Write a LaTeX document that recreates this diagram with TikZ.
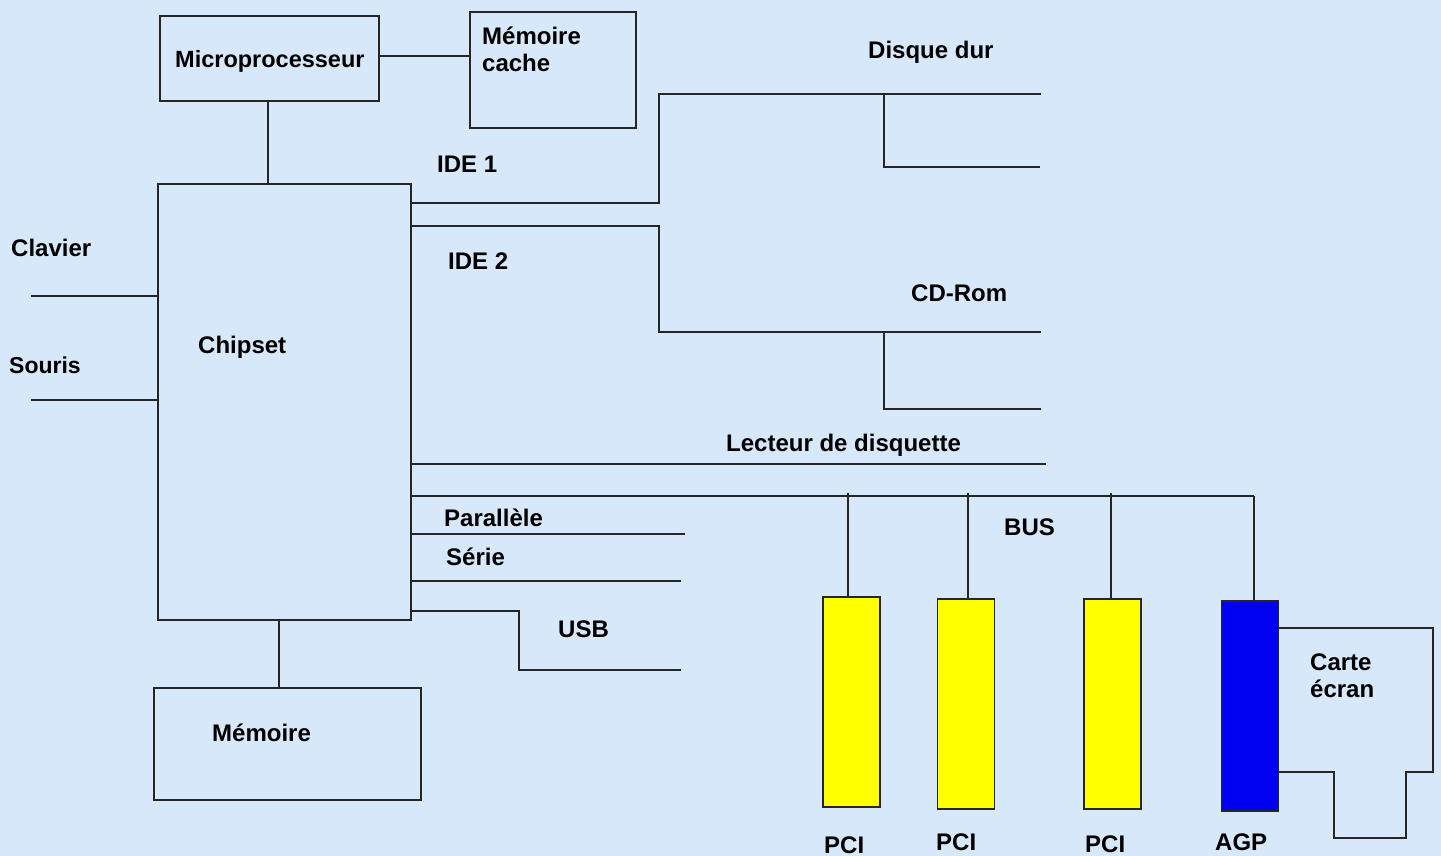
\documentclass[tikz,border=0pt]{standalone}
\usepackage{fontspec}
\setmainfont{Liberation Sans}
\definecolor{pagebg}{HTML}{D6E8F9}
\definecolor{slotpci}{HTML}{FFFF00}
\definecolor{slotagp}{HTML}{0000F0}
\begin{document}
\begin{tikzpicture}[
  x=1pt, y=-1pt,
  box/.style={rectangle, draw=black!85, line width=1.7pt, anchor=north west, inner sep=0pt},
  slot/.style={box, minimum width=57pt, minimum height=210pt},
  wire/.style={line width=1.5pt, draw=black!85},
  lbl/.style={anchor=west, inner sep=0pt, font=\fontsize{24}{27}\selectfont\bfseries, align=left}
]
\fill[pagebg] (0,0) rectangle (1441,856);
\useasboundingbox (0,0) rectangle (1441,856);

\node[box, minimum width=219pt, minimum height=85pt] (micro) at (159,15) {};
\node[box, minimum width=166pt, minimum height=116pt] (cache) at (469,11) {};
\node[box, minimum width=253pt, minimum height=436pt] (chipset) at (157,183) {};
\node[box, minimum width=267pt, minimum height=112pt] (memoire) at (153,687) {};
\node[slot, fill=slotpci] (pcia) at (822,596) {};
\node[slot, fill=slotpci] (pcib) at (936.5,598) {};
\node[slot, fill=slotpci] (pcic) at (1083,598) {};
\node[slot, fill=slotagp] (agp) at (1220.5,600) {};

% free ends
\coordinate (clavierend) at (31,296);
\coordinate (sourisend) at (31,400);
\coordinate (ideaend) at (1041,94);
\coordinate (ideatwo) at (1040,167);
\coordinate (idebend) at (1041,332);
\coordinate (idebtwo) at (1041,409);
\coordinate (floppyend) at (1046,464);
\coordinate (busend) at (1254,496);
\coordinate (parend) at (685,534);
\coordinate (serend) at (681,581);
\coordinate (usbend) at (681,670);

\draw[wire] (micro.south -| 268,0) -- (chipset.north -| 268,0);
\draw[wire] (micro.east |- 0,56) -- (cache.west |- 0,56);
\draw[wire] (chipset.south -| 279,0) -- (memoire.north -| 279,0);
\draw[wire] (clavierend) -- (chipset.west |- clavierend);
\draw[wire] (sourisend) -- (chipset.west |- sourisend);
\draw[wire] (chipset.east |- 0,203) -| (659,94) -- (ideaend);
\draw[wire] (884,94) |- (ideatwo);
\draw[wire] (chipset.east |- 0,226) -| (659,332) -- (idebend);
\draw[wire] (884,332) |- (idebtwo);
\draw[wire] (chipset.east |- floppyend) -- (floppyend);
\draw[wire] (chipset.east |- busend) -- (busend);
\draw[wire] (chipset.east |- parend) -- (parend);
\draw[wire] (chipset.east |- serend) -- (serend);
\draw[wire] (chipset.east |- 0,611) -| (519,670) -- (usbend);
\draw[wire] (848,493) -- (pcia.north -| 848,0);
\draw[wire] (968,493) -- (pcib.north -| 968,0);
\draw[wire] (1111,493) -- (pcic.north -| 1111,0);
\draw[wire] (busend) -- (agp.north -| busend);
\draw[wire] (agp.east |- 0,628) -- (1433,628) -- (1433,772) -- (1406,772) -- (1406,838) -- (1334,838) -- (1334,772) -- (agp.east |- 0,772);

\node[lbl, font=\fontsize{23.5}{27}\selectfont\bfseries] (tmicro) at (175,61) {Microprocesseur};
\node[lbl] (tcache) at (482,49) {Mémoire\\cache};
\node[lbl] (tdisque) at (868,52) {Disque dur};
\node[lbl] (tideone) at (437,164) {IDE 1};
\node[lbl] (tidetwo) at (448,261) {IDE 2};
\node[lbl] (tclavier) at (11,248) {Clavier};
\node[lbl, font=\fontsize{23}{27}\selectfont\bfseries] (tsouris) at (9,365) {Souris};
\node[lbl] (tchipset) at (198,347) {Chipset};
\node[lbl] (tcd) at (911,293) {CD-Rom};
\node[lbl] (tfloppy) at (726,445) {Lecteur de disquette};
\node[lbl] (tpar) at (444,518) {Parallèle};
\node[lbl] (tser) at (446,557) {Série};
\node[lbl] (tbus) at (1004,527) {BUS};
\node[lbl] (tusb) at (558,629) {USB};
\node[lbl] (tmem) at (212,733) {Mémoire};
\node[lbl] (tcarte) at (1310,676) {Carte\\écran};
\node[lbl] (tpcia) at (824,845) {PCI};
\node[lbl] (tpcib) at (936,842) {PCI};
\node[lbl] (tpcic) at (1085,844) {PCI};
\node[lbl] (tagp) at (1215,842) {AGP};
\end{tikzpicture}
\end{document}
